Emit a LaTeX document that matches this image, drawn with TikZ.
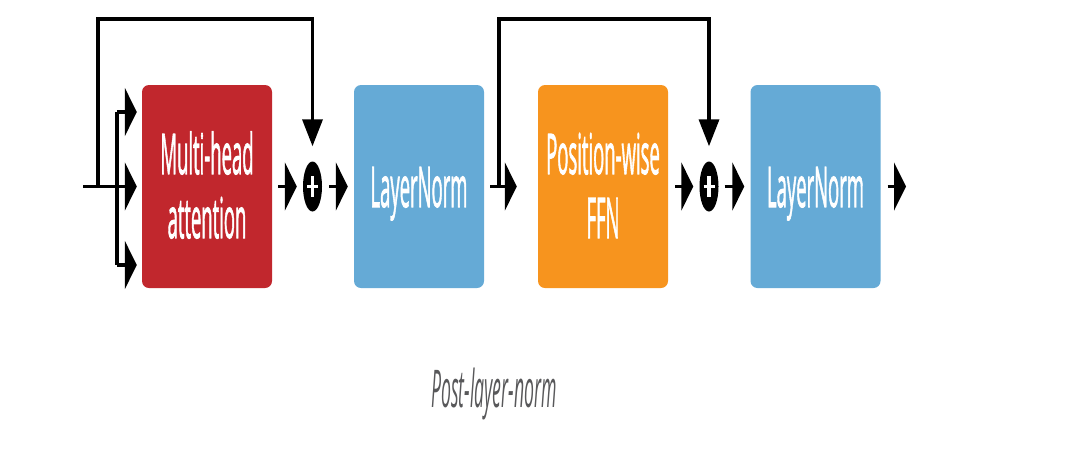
\documentclass[tikz,border=0pt]{standalone}
\usepackage{fontspec}
\setmainfont{Open Sans}
\newfontfamily\boxfont{Open Sans}[FakeBold=2]
\usetikzlibrary{arrows.meta,shapes.geometric}
\definecolor{mhared}{RGB}{193,39,45}
\definecolor{lnblue}{RGB}{101,170,214}
\definecolor{ffnorange}{RGB}{247,148,30}
\definecolor{capgray}{RGB}{88,88,90}
\begin{document}
\begin{tikzpicture}[x=1pt,y=-1pt,
 block/.style={rectangle, rounded corners=7pt, minimum width=130pt, minimum height=203pt, inner sep=0pt, text=white, font=\boxfont\fontsize{56}{64}\selectfont},
 oneline/.style={text height=45pt, text depth=4pt},
 twoline/.style={text height=45pt, text depth=70pt},
 conn/.style={line width=3.5pt, -{Triangle[length=12pt,width=48pt]}},
 skip/.style={line width=3.5pt, -{Triangle[length=27pt,width=20pt]}},
 plus/.style={ellipse, fill=black, minimum width=19pt, minimum height=50pt, inner sep=0pt},
 bar/.style={white, line width=3.2pt}
]
\useasboundingbox (0,0) rectangle (1083,448);
\node[block, fill=mhared, twoline] (mha) at (207,186.5) {\scalebox{0.33}[1]{\begin{tabular}[t]{@{}c@{}}Multi-head\\attention\end{tabular}}};
\node[block, fill=lnblue, oneline] (ln1) at (419,186.5) {\scalebox{0.33}[1]{LayerNorm}};
\node[block, fill=ffnorange, twoline] (ffn) at (603,186.5) {\scalebox{0.33}[1]{\begin{tabular}[t]{@{}c@{}}Position-wise\\FFN\end{tabular}}};
\node[block, fill=lnblue, oneline] (ln2) at (815.5,186.5) {\scalebox{0.33}[1]{LayerNorm}};
\node[plus] (p1) at (312.5,186.5) {};
\node[plus] (p2) at (709,186.5) {};
\draw[bar] (p1.center) ++(0,-10.5) -- ++(0,21);
\draw[bar] (p1.center) ++(-5.5,0) -- ++(11,0);
\draw[bar] (p2.center) ++(0,-10.5) -- ++(0,21);
\draw[bar] (p2.center) ++(-5.5,0) -- ++(11,0);
\coordinate (in) at (83,186.5);
\coordinate (s1) at (98,186.5);
\coordinate (t1) at (98,19);
\coordinate (bt) at (117,112);
\coordinate (bb) at (117,265);
\coordinate (s2) at (499,186.5);
\coordinate (t2) at (499,19);
\coordinate (out) at (906,186.5);
\draw[conn, shorten >=5pt] (in) -- (mha.west);
\draw[line width=3.5pt] (bt) -- (bb);
\draw[conn, shorten >=5pt] (bt) -- (mha.west |- bt);
\draw[conn, shorten >=5pt] (bb) -- (mha.west |- bb);
\draw[skip, shorten >=15pt] (s1) -- (t1) -| (p1.north);
\draw[conn, shorten <=6pt, shorten >=6pt] (mha.east) -- (p1.west);
\draw[conn, shorten <=7pt, shorten >=6pt] (p1.east) -- (ln1.west);
\draw[conn, shorten <=6pt, shorten >=21pt] (ln1.east) -- (ffn.west);
\draw[skip, shorten >=15pt] (s2) -- (t2) -| (p2.north);
\draw[conn, shorten <=7pt, shorten >=6pt] (ffn.east) -- (p2.west);
\draw[conn, shorten <=6pt, shorten >=6pt] (p2.east) -- (ln2.west);
\draw[conn, shorten <=7pt] (ln2.east) -- (out);
\node[anchor=base, text=capgray, font=\fontsize{52}{60}\selectfont\itshape] (cap) at (494,407) {\scalebox{0.34}[1]{Post-layer-norm}};
\end{tikzpicture}
\end{document}
